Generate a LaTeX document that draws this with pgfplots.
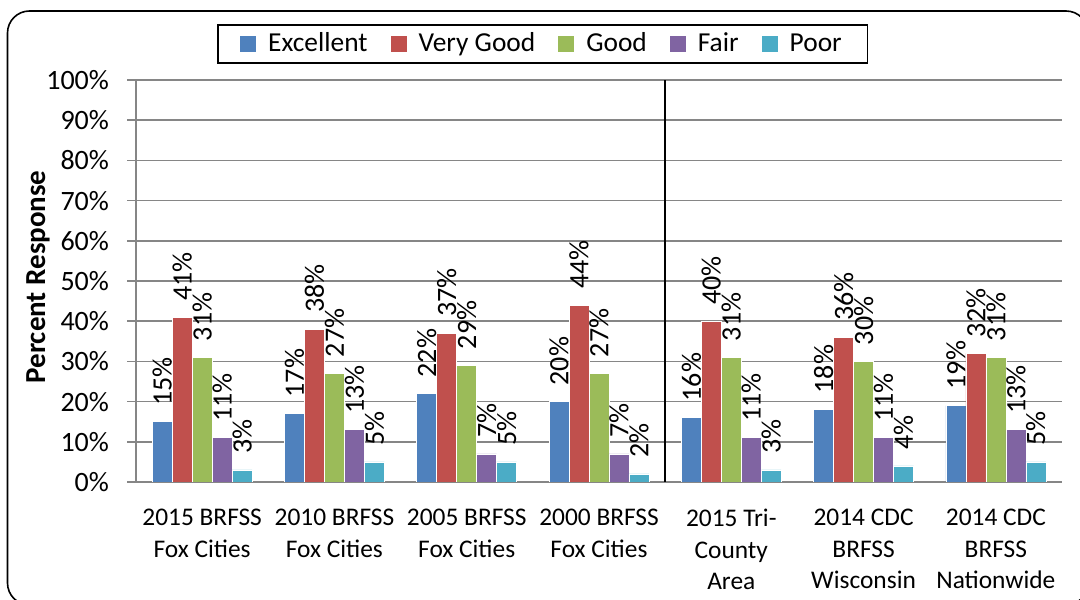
\documentclass[border=0pt]{standalone}
\usepackage{fontspec}
\setmainfont{Carlito}
\usepackage{pgfplots}
\pgfplotsset{compat=1.18}
\definecolor{cA}{HTML}{4F81BD}
\definecolor{cB}{HTML}{C0504D}
\definecolor{cC}{HTML}{9BBB59}
\definecolor{cD}{HTML}{8064A2}
\definecolor{cE}{HTML}{4BACC6}
\definecolor{gridc}{HTML}{868686}
\begin{document}
\begin{tikzpicture}
\useasboundingbox (0,0) rectangle (540pt,299.5pt);
\begin{axis}[
  at={(68pt,58.5pt)}, anchor=south west,
  scale only axis, width=463pt, height=201pt,
  xmin=-0.5, xmax=6.5, ymin=0, ymax=100,
  ybar=0pt, bar width=0.151,
  axis x line*=bottom, axis y line*=left,
  axis line style={gridc, line width=0.75pt, -},
  ymajorgrids, grid style={gridc, line width=0.75pt},
  ytick={0,10,...,100},
  yticklabels={0\%,10\%,20\%,30\%,40\%,50\%,60\%,70\%,80\%,90\%,100\%},
  yticklabel style={font=\fontsize{14}{16}\selectfont, xshift=-5.5pt},
  xtick={0,...,6},
  xticklabels={{2015 BRFSS\\Fox Cities},{2010 BRFSS\\Fox Cities},{2005 BRFSS\\Fox Cities},{2000 BRFSS\\Fox Cities},{2015 Tri-\\County\\Area},{2014 CDC\\BRFSS\\Wisconsin},{2014 CDC\\BRFSS\\Nationwide}},
  xticklabel style={font=\fontsize{12.7}{15.75}\selectfont, align=center, anchor=north, yshift=-5.5pt},
  x tick style={draw=none},
  extra x ticks={-0.5,0.5,...,6.5},
  extra x tick labels={},
  extra x tick style={grid=none, tick style={draw=gridc, line width=0.75pt}, major tick length=4pt, tick align=outside},
  y tick style={gridc, line width=0.75pt},
  tick align=outside, major tick length=4.5pt,
  ylabel={Percent Response},
  ylabel style={at={(axis description cs:-0.1058,0.51)}, anchor=center, font=\bfseries\fontsize{14.5}{16}\selectfont},
  nodes near coords={\pgfmathprintnumber[assume math mode=true]{\pgfplotspointmeta}\%},
  every node near coord/.append style={rotate=90, anchor=west, font=\fontsize{14}{16}\selectfont, inner xsep=8pt, inner ysep=0pt, black},
  legend style={at={(axis description cs:0.4395,1.0896)}, anchor=center, legend columns=5,
    draw=black, line width=0.75pt, font=\fontsize{13.7}{16}\selectfont,
    inner xsep=11pt, inner ysep=2pt,
    /tikz/every odd column/.append style={column sep=4pt},
    /tikz/every even column/.append style={column sep=9.5pt}},
  legend image code/.code={\fill[#1,draw=none] (0pt,-4pt) rectangle (8pt,4pt);},
]
\addplot[fill=cA, draw=white, line width=0.3pt] coordinates {(0,15) (1,17) (2,22) (3,20) (4,16) (5,18) (6,19)};
\addplot[fill=cB, draw=white, line width=0.3pt] coordinates {(0,41) (1,38) (2,37) (3,44) (4,40) (5,36) (6,32)};
\addplot[fill=cC, draw=white, line width=0.3pt] coordinates {(0,31) (1,27) (2,29) (3,27) (4,31) (5,30) (6,31)};
\addplot[fill=cD, draw=white, line width=0.3pt] coordinates {(0,11) (1,13) (2,7) (3,7) (4,11) (5,11) (6,13)};
\addplot[fill=cE, draw=white, line width=0.3pt] coordinates {(0,3) (1,5) (2,5) (3,2) (4,3) (5,4) (6,5)};
\legend{Excellent,Very Good,Good,Fair,Poor}
\draw[black, line width=0.75pt] (axis cs:3.5,0) -- (axis cs:3.5,100);
\end{axis}
\draw[black, line width=0.8pt, rounded corners=11pt] (3.75pt,-3pt) rectangle (544pt,294pt);
\end{tikzpicture}
\end{document}
